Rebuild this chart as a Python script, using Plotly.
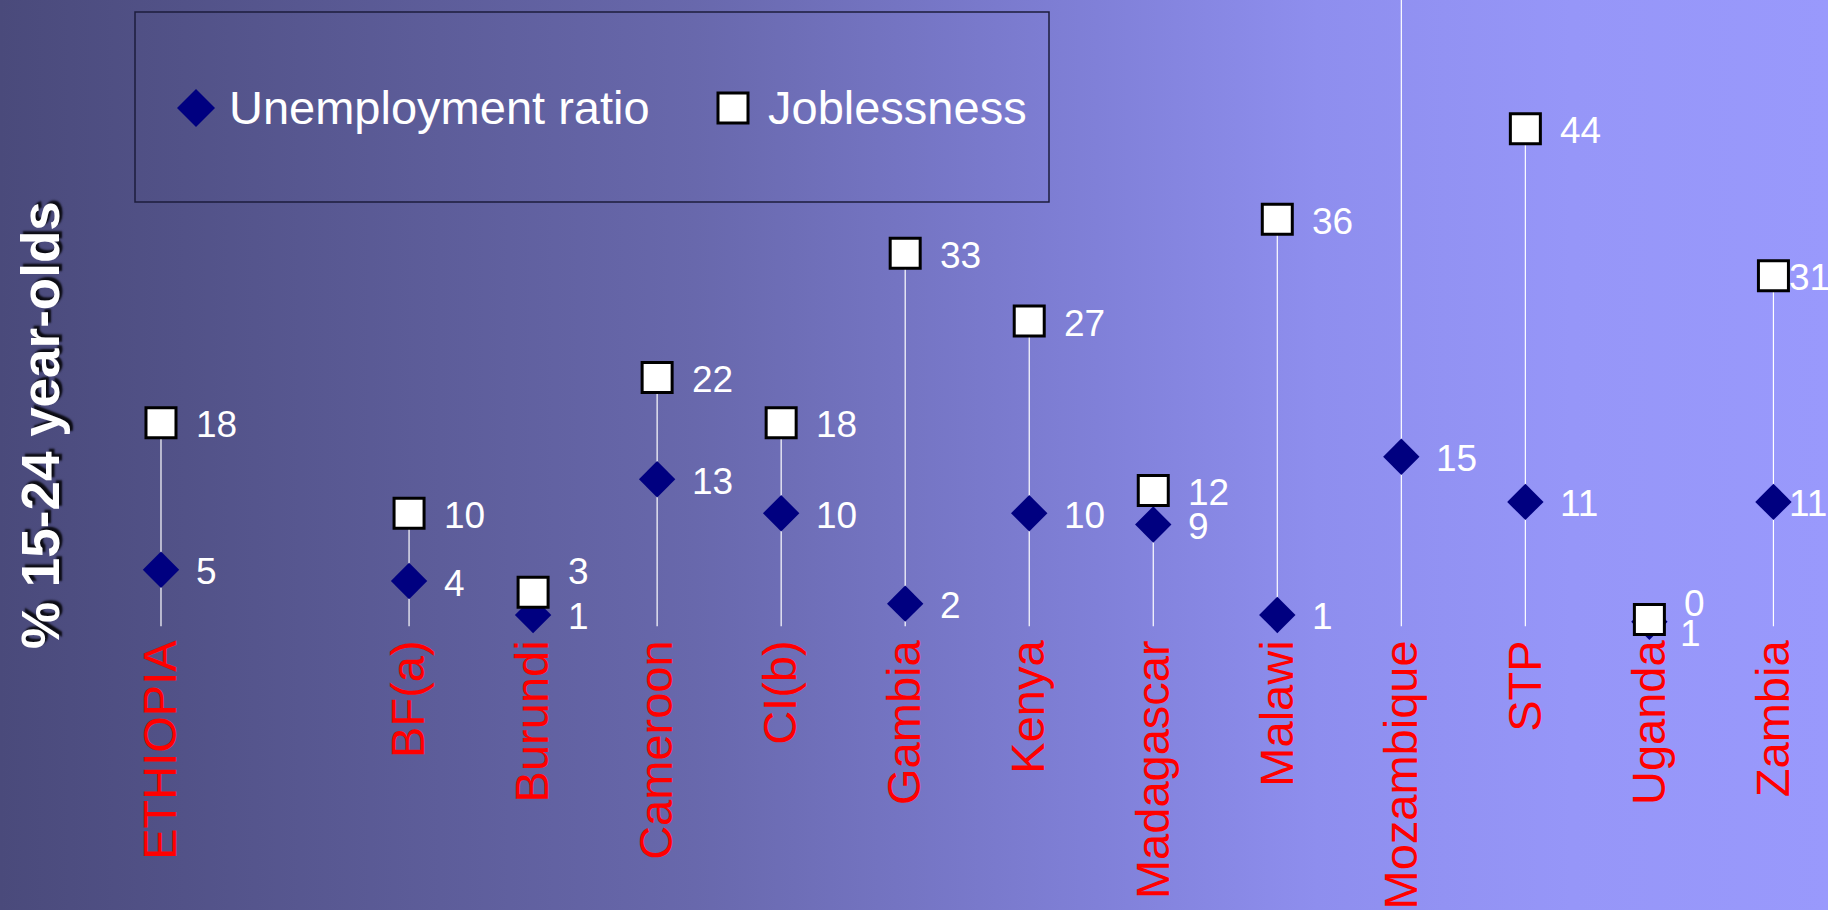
import base64
import plotly.graph_objects as go

# ---- data -------------------------------------------------------------
countries = ["ETHIOPIA", " ", "BF(a)", "Burundi", "Cameroon", "CI(b)", "Gambia",
             "Kenya", "Madagascar", "Malawi", "Mozambique", "STP", "Uganda", "Zambia"]
unemployment_ratio = [5, None, 4, 1, 13, 10, 2, 10, 9, 1, 15, 11, 0.4, 11]
joblessness = [18, None, 10, 3, 22, 18, 33, 27, 12, 36, 58, 44, 0.6, 31]

series_names = ["Unemployment ratio", "Joblessness"]
y_title = "% 15-24 year-olds"

# ---- styling ----------------------------------------------------------
W, H = 1828, 910
BASE_PX = 626            # pixel row of the zero line
Y_RANGE = [-25.1, 55.4]
X_RANGE = [-1.298, 13.44]
FONT = "Liberation Sans, Arial, sans-serif"
NAVY = "#000080"

# per-label nudges (pixels) where labels would collide or run off the edge
label_nudge = {
    ("Burundi", 1): (0, 23),
    ("Uganda", 0): (0, 20),
    ("Uganda", 1): (-4, -12),
    ("Zambia", 0): (-19, 0),
    ("Zambia", 1): (-19, 0),
}

fig = go.Figure()

# drop lines from the baseline up to the higher of the two values
lx, ly = [], []
for c, u, j in zip(countries, unemployment_ratio, joblessness):
    vals = [v for v in (u, j) if v is not None]
    if not vals:
        continue
    lx += [c, c, None]
    ly += [0, max(vals), None]
fig.add_trace(go.Scatter(x=lx, y=ly, mode="lines",
                         line=dict(color="white", width=1.2),
                         hoverinfo="skip", showlegend=False))

fig.add_trace(go.Scatter(x=countries, y=unemployment_ratio, mode="markers",
                         name=series_names[0],
                         marker=dict(symbol="diamond", size=28, color=NAVY,
                                     line=dict(width=0)),
                         showlegend=False))
fig.add_trace(go.Scatter(x=countries, y=joblessness, mode="markers",
                         name=series_names[1],
                         marker=dict(symbol="square", size=30, color="white",
                                     line=dict(color="black", width=3)),
                         showlegend=False))

# value labels
annotations = []
for k, series in enumerate([unemployment_ratio, joblessness]):
    for c, v in zip(countries, series):
        if v is None or v > Y_RANGE[1]:
            continue
        dx, dy = label_nudge.get((c, k), (0, 0))
        annotations.append(dict(
            x=c, y=v, xref="x", yref="y", text=f"{v:.0f}" if v >= 1 else str(round(v)),
            showarrow=False, xanchor="left", yanchor="middle",
            xshift=33 + dx, yshift=-2 + dy,
            font=dict(family=FONT, size=37, color="white")))

# axis title
annotations.append(dict(
    x=40 / W, y=1 - 425 / H, xref="paper", yref="paper", text=y_title,
    textangle=-90, showarrow=False, xanchor="center", yanchor="middle",
    font=dict(family=FONT, size=53, color="white", weight="bold",
              shadow="3px 3px 2px rgba(0,0,0,0.85)")))

# legend
leg_y = 1 - 108 / H
legend_items = [(196, 227), (733, 766)]
shapes = [dict(type="rect", xref="paper", yref="paper",
               x0=135 / W, x1=1049 / W, y0=1 - 202 / H, y1=1 - 12 / H,
               line=dict(color="#1c1c3c", width=1.5), fillcolor="rgba(0,0,0,0)")]
shapes.append(dict(type="path", xref="paper", yref="paper",
                   xsizemode="pixel", ysizemode="pixel",
                   xanchor=legend_items[0][0] / W, yanchor=leg_y,
                   path="M -19 0 L 0 19 L 19 0 L 0 -19 Z",
                   fillcolor=NAVY, line=dict(width=0)))
shapes.append(dict(type="rect", xref="paper", yref="paper",
                   xsizemode="pixel", ysizemode="pixel",
                   xanchor=legend_items[1][0] / W, yanchor=leg_y,
                   x0=-15, x1=15, y0=-15, y1=15,
                   fillcolor="white", line=dict(color="black", width=3)))
for name, (_, tx) in zip(series_names, legend_items):
    annotations.append(dict(
        x=tx / W, y=leg_y, xref="paper", yref="paper", text=name,
        showarrow=False, xanchor="left", yanchor="middle", yshift=1,
        font=dict(family=FONT, size=47, color="white")))

# gradient backdrop
svg = (f"<svg xmlns='http://www.w3.org/2000/svg' width='{W}' height='{H}' "
       f"viewBox='0 0 {W} {H}' preserveAspectRatio='none'>"
       "<defs><linearGradient id='g' x1='0' y1='0' x2='1' y2='0'>"
       "<stop offset='0' stop-color='#4a4a7b'/>"
       "<stop offset='0.38' stop-color='#6868ac'/>"
       "<stop offset='0.6' stop-color='#8080d8'/>"
       "<stop offset='0.72' stop-color='#8e8eee'/>"
       "<stop offset='0.86' stop-color='#9696f8'/>"
       "<stop offset='1' stop-color='#9999fc'/>"
       "</linearGradient></defs>"
       f"<rect width='{W}' height='{H}' fill='url(#g)'/></svg>")
bg_src = "data:image/svg+xml;base64," + base64.b64encode(svg.encode()).decode()

fig.update_layout(
    width=W, height=H,
    margin=dict(l=0, r=0, t=0, b=0, autoexpand=False),
    paper_bgcolor="#4a4a7b", plot_bgcolor="rgba(0,0,0,0)",
    images=[dict(source=bg_src, xref="paper", yref="paper", x=0, y=1,
                 sizex=1, sizey=1, sizing="stretch", layer="below")],
    shapes=shapes,
    annotations=annotations,
    showlegend=False,
    xaxis=dict(type="category", categoryorder="array", categoryarray=countries,
               range=X_RANGE, anchor="free", position=1 - BASE_PX / H,
               automargin=False,
               showgrid=False, zeroline=False, showline=False, ticks="",
               tickangle=-90, ticklabelstandoff=4,
               tickfont=dict(family=FONT, size=47, color="#ff0000")),
    yaxis=dict(range=Y_RANGE, visible=False, showgrid=False, zeroline=False,
               automargin=False),
)

fig.write_html("out.html")
